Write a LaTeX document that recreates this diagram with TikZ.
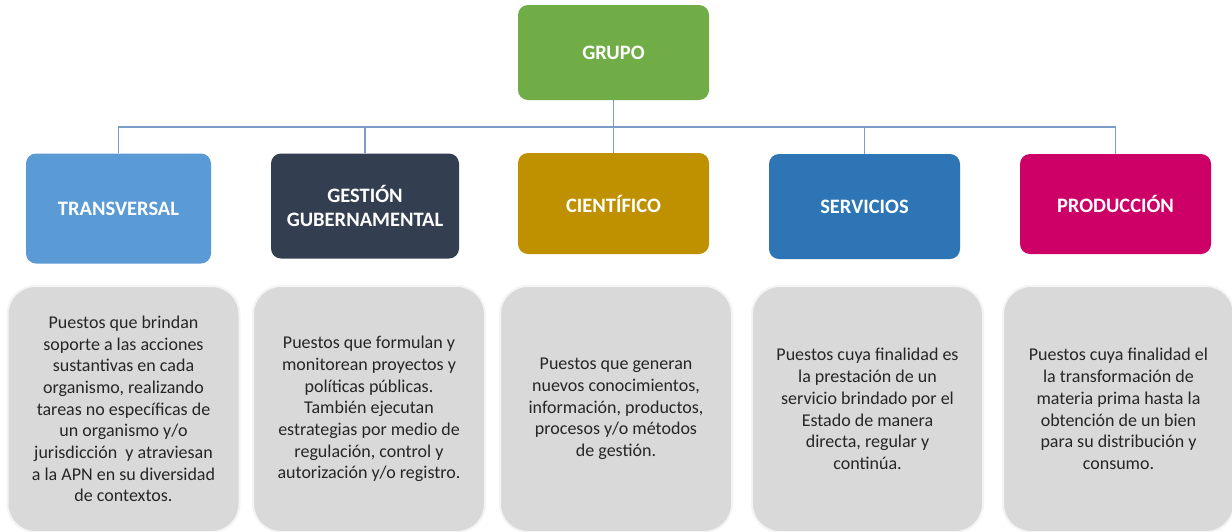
\documentclass[tikz,border=0pt]{standalone}
\usepackage{fontspec}
\setmainfont{Carlito}
\definecolor{cgrupo}{HTML}{70AD47}
\definecolor{ctrans}{HTML}{5B9BD5}
\definecolor{cgest}{HTML}{333F50}
\definecolor{ccien}{HTML}{BF9000}
\definecolor{cserv}{HTML}{2E75B6}
\definecolor{cprod}{HTML}{CC0066}
\definecolor{cline}{HTML}{7A9CC6}
\definecolor{cgray}{HTML}{D9D9D9}
\definecolor{ctext}{HTML}{262626}
\begin{document}
\begin{tikzpicture}[x=1pt,y=-1pt,
  head/.style={rounded corners=10pt, inner sep=0pt, text=white,
    font=\fontsize{20.5}{24}\selectfont\bfseries, align=center},
  desc/.style={rounded corners=28pt, inner sep=0pt, fill=cgray,
    draw=white!70!cgray, line width=2pt, text=ctext,
    font=\fontsize{18}{21.7}\selectfont, align=center},
  conn/.style={draw=cline, line width=1.3pt}]
\useasboundingbox (0,0) rectangle (1232,531);
\fill[white] (0,0) rectangle (1232,531);

\node[head, fill=cgrupo, minimum width=191pt, minimum height=95pt] (grupo) at (613.5,52.5) {GRUPO};

\node[head, fill=ctrans, minimum width=185pt, minimum height=110pt] (trans) at (118.5,208.5) {TRANSVERSAL};
\node[head, fill=cgest, minimum width=188pt, minimum height=105pt] (gest) at (365,206) {GESTIÓN\\GUBERNAMENTAL};
\node[head, fill=ccien, minimum width=191pt, minimum height=101pt] (cien) at (613.5,203.5) {CIENTÍFICO};
\node[head, fill=cserv, minimum width=191pt, minimum height=105pt] (serv) at (864.5,206.5) {SERVICIOS};
\node[head, fill=cprod, minimum width=191pt, minimum height=100pt] (prod) at (1115.5,204) {PRODUCCIÓN};

\coordinate (bus) at (614,127);
\draw[conn] (grupo.south) -- (cien.north);
\draw[conn] (trans.north) |- (bus);
\draw[conn] (gest.north) |- (bus);
\draw[conn] (serv.north) |- (bus);
\draw[conn] (prod.north) |- (bus);

\node[desc, minimum width=232pt, minimum height=246pt] (d1) at (123.5,409) {Puestos que brindan\\soporte a las acciones\\sustantivas en cada\\organismo, realizando\\tareas no específicas de\\un organismo y/o\\jurisdicción \ y atraviesan\\a la APN en su diversidad\\de contextos.};
\node[desc, minimum width=232pt, minimum height=246pt] (d2) at (369,409) {Puestos que formulan y\\monitorean proyectos y\\políticas públicas.\\También ejecutan\\estrategias por medio de\\regulación, control y\\autorización y/o registro.};
\node[desc, minimum width=232pt, minimum height=246pt] (d3) at (616,409) {Puestos que generan\\nuevos conocimientos,\\información, productos,\\procesos y/o métodos\\de gestión.};
\node[desc, minimum width=231pt, minimum height=246pt] (d4) at (867.5,409) {Puestos cuya finalidad es\\la prestación de un\\servicio brindado por el\\Estado de manera\\directa, regular y\\continúa.};
\node[desc, minimum width=231pt, minimum height=246pt] (d5) at (1118.5,409) {Puestos cuya finalidad el\\la transformación de\\materia prima hasta la\\obtención de un bien\\para su distribución y\\consumo.};
\end{tikzpicture}
\end{document}
